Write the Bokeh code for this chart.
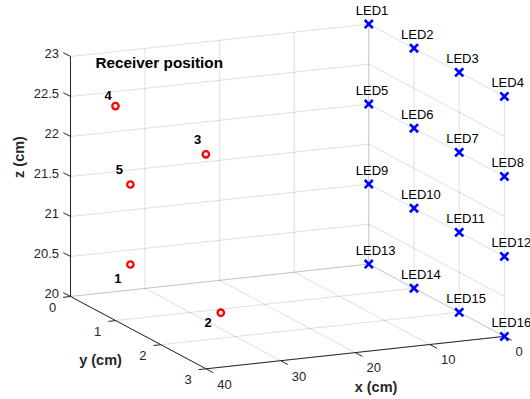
import numpy as np
from bokeh.plotting import figure
from bokeh.models import ColumnDataSource, Range1d
from bokeh.core.properties import value
from bokeh.embed import file_html
from bokeh.resources import INLINE

# ---------------- data ----------------
led_names = [f"LED{i}" for i in range(1, 17)]
led_x = [0] * 16
led_y = [0, 1, 2, 3] * 4
led_z = [23] * 4 + [22] * 4 + [21] * 4 + [20] * 4

rx_names = ["1", "2", "3", "4", "5"]
rx_x = [35, 35, 37, 37, 35]
rx_y = [0.5, 2.5, 2.5, 0.5, 0.5]
rx_z = [20.5, 20.5, 22.5, 22.5, 21.5]

x_ticks = [0, 10, 20, 30, 40]
y_ticks = [0, 1, 2, 3]
z_ticks = [20, 20.5, 21, 21.5, 22, 22.5, 23]
x_tick_labels = ["0", "10", "20", "30", "40"]
y_tick_labels = ["0", "1", "2", "3"]
z_tick_labels = ["20", "20.5", "21", "21.5", "22", "22.5", "23"]

title_text = "Receiver position"
x_label, y_label, z_label = "x (cm)", "y (cm)", "z (cm)"

# ---------------- camera (orthographic view) ----------------
W, H = 530, 399
X0, Y0 = 70.0, 296.0          # screen position of (x=40, y=0, z=20)
EX = (-7.457, 0.81)           # screen shift per +1 x
EY = (45.2, 24.1)             # screen shift per +1 y
EZ = (0.0, -80.0)             # screen shift per +1 z
XMIN, XMAX, YMIN, YMAX, ZMIN, ZMAX = 0, 40, 0, 3, 20, 23


def proj(x, y, z):
    x = np.asarray(x, float); y = np.asarray(y, float); z = np.asarray(z, float)
    sx = X0 + (x - XMAX) * EX[0] + y * EY[0] + (z - ZMIN) * EZ[0]
    sy = Y0 + (x - XMAX) * EX[1] + y * EY[1] + (z - ZMIN) * EZ[1]
    return sx, sy


def seg(a, b):
    sa = proj(*a); sb = proj(*b)
    return [float(sa[0]), float(sb[0])], [float(sa[1]), float(sb[1])]


FONT = value("Liberation Sans")
AX = "#262626"

p = figure(width=W, height=H, x_range=Range1d(0, W), y_range=Range1d(H, 0),
           output_backend="svg", toolbar_location=None, min_border=0,
           x_axis_type=None, y_axis_type=None, title=None)
p.grid.visible = False
p.outline_line_color = None
p.background_fill_color = "white"

# ---------------- grid ----------------
gx, gy = [], []
def add(a, b):
    s = seg(a, b); gx.append(s[0]); gy.append(s[1])

for z in z_ticks:
    add((XMAX, YMIN, z), (XMIN, YMIN, z))    # back wall y=0
    add((XMIN, YMIN, z), (XMIN, YMAX, z))    # side wall x=0
for x in x_ticks:
    add((x, YMIN, ZMIN), (x, YMIN, ZMAX))    # back wall verticals
    add((x, YMIN, ZMIN), (x, YMAX, ZMIN))    # floor
for y in y_ticks:
    add((XMIN, y, ZMIN), (XMIN, y, ZMAX))    # side wall verticals
    add((XMAX, y, ZMIN), (XMIN, y, ZMIN))    # floor
p.multi_line(gx, gy, line_color=AX, line_alpha=0.15, line_width=1)

# ---------------- axes ----------------
ax_x, ax_y = [], []
for a, b in [((XMAX, YMIN, ZMIN), (XMAX, YMIN, ZMAX)),
             ((XMAX, YMIN, ZMIN), (XMAX, YMAX, ZMIN)),
             ((XMAX, YMAX, ZMIN), (XMIN, YMAX, ZMIN))]:
    s = seg(a, b); ax_x.append(s[0]); ax_y.append(s[1])
for z in z_ticks:
    s = seg((XMAX, YMIN, z), (XMAX, YMIN - 0.16, z)); ax_x.append(s[0]); ax_y.append(s[1])
for y in y_ticks:
    s = seg((XMAX, y, ZMIN), (XMAX + 1.0, y, ZMIN)); ax_x.append(s[0]); ax_y.append(s[1])
for x in x_ticks:
    s = seg((x, YMAX, ZMIN), (x, YMAX + 0.16, ZMIN)); ax_x.append(s[0]); ax_y.append(s[1])
p.multi_line(ax_x, ax_y, line_color=AX, line_width=1)

# tick labels
zx, zy = proj([XMAX] * len(z_ticks), [YMIN] * len(z_ticks), z_ticks)
p.text(x=zx - 11.5, y=zy - 3, text=z_tick_labels, text_font=FONT, text_font_size="13px",
       text_color=AX, text_align="right", text_baseline="middle")
yx, yy = proj([XMAX] * len(y_ticks), y_ticks, [ZMIN] * len(y_ticks))
p.text(x=yx - 18, y=yy + 10.8, text=y_tick_labels, text_font=FONT, text_font_size="13px",
       text_color=AX, text_align="center", text_baseline="middle")
xx, xy = proj(x_ticks, [YMAX] * len(x_ticks), [ZMIN] * len(x_ticks))
p.text(x=xx + 11.2, y=xy + 15.3, text=x_tick_labels, text_font=FONT, text_font_size="13px",
       text_color=AX, text_align="left", text_baseline="middle")

# axis labels
p.text(x=[375.5], y=[386], text=[x_label], text_font=FONT, text_font_size="14.5px",
       text_font_style="bold", text_color=AX, text_align="center", text_baseline="middle")
p.text(x=[100], y=[359], text=[y_label], text_font=FONT, text_font_size="14.5px",
       text_font_style="bold", text_color=AX, text_align="center", text_baseline="middle")
p.text(x=[18.5], y=[156.5], text=[z_label], text_font=FONT, text_font_size="14.5px",
       text_font_style="bold", text_color=AX, text_align="center", text_baseline="middle",
       angle=np.pi / 2)

# ---------------- LEDs ----------------
lx, ly = proj(led_x, led_y, led_z)
led_src = ColumnDataSource(dict(x=lx, y=ly, name=led_names))
p.scatter("x", "y", source=led_src, marker="x", size=11.5, line_width=2.6, line_color="#0000ff")
p.text(x=lx - 13, y=ly - 13.5, text=led_names, text_font=FONT, text_font_size="13px",
       text_color="black", text_align="left", text_baseline="middle")

# ---------------- receivers ----------------
rxs, rys = proj(rx_x, rx_y, rx_z)
rx_src = ColumnDataSource(dict(x=rxs, y=rys, name=rx_names))
p.scatter("x", "y", source=rx_src, marker="circle", size=6.4, line_width=2.3,
          line_color="#ff0000", fill_color=None)
lab_dx = [-12.6, -12.7, -8.3, -7.3, -11.0]
lab_dy = [14.0, 10.0, -14.4, -10.7, -15.0]
p.text(x=rxs + np.array(lab_dx), y=rys + np.array(lab_dy), text=rx_names, text_font=FONT,
       text_font_size="13px", text_font_style="bold", text_color="black",
       text_align="center", text_baseline="middle")

# title
p.text(x=[95], y=[62], text=[title_text], text_font=FONT, text_font_size="15.3px",
       text_font_style="bold", text_color="black", text_align="left", text_baseline="middle")

open("out.html", "w").write(file_html(p, INLINE))
